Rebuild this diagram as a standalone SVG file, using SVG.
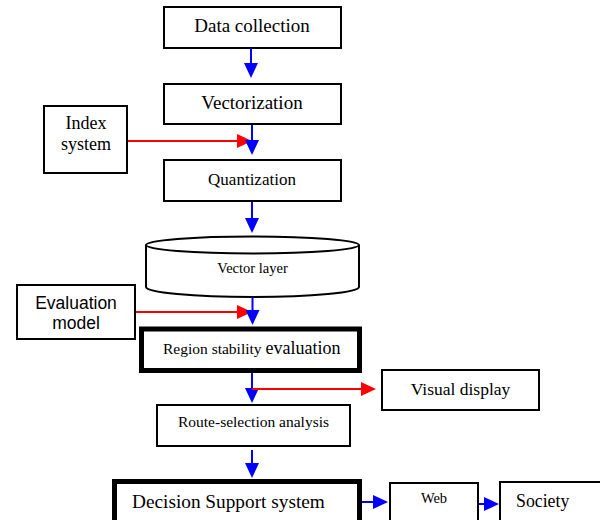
<svg xmlns="http://www.w3.org/2000/svg" width="600" height="520" viewBox="0 0 600 520">
  <style>
    .box { fill: #fff; stroke: #000; stroke-width: 2; }
    .thick { fill: #fff; stroke: #000; stroke-width: 5; }
    .t { font-family: "Liberation Serif", "Times New Roman", serif; fill: #000; }
    .s { font-family: "Liberation Sans", Arial, sans-serif; fill: #000; }
    .blue { stroke: #0000ff; stroke-width: 2; fill: none; marker-end: url(#headBlue); }
    .red { stroke: #ff0000; stroke-width: 2; fill: none; marker-end: url(#headRed); }
  </style>
  <defs>
    <marker id="headBlue" viewBox="0 0 15 14" refX="10" refY="7" markerWidth="15" markerHeight="14" markerUnits="userSpaceOnUse" orient="auto">
      <path d="M0,0 L15,7 L0,14 z" fill="#0000ff"/>
    </marker>
    <marker id="headRed" viewBox="0 0 15 14" refX="10" refY="7" markerWidth="15" markerHeight="14" markerUnits="userSpaceOnUse" orient="auto">
      <path d="M0,0 L15,7 L0,14 z" fill="#ff0000"/>
    </marker>
  </defs>
  <rect width="600" height="520" fill="#fff"/>

  <g id="data-collection">
    <rect class="box" x="164" y="7" width="177" height="41"/>
    <text class="t" x="252" y="32" font-size="19" text-anchor="middle">Data collection</text>
  </g>
  <g id="vectorization">
    <rect class="box" x="164" y="84" width="177" height="40"/>
    <text class="t" x="252" y="109" font-size="19" text-anchor="middle">Vectorization</text>
  </g>
  <g id="index-system">
    <rect class="box" x="44" y="106" width="83" height="67"/>
    <text class="t" x="86" y="129" font-size="18" text-anchor="middle">Index</text>
    <text class="t" x="86" y="150" font-size="18" text-anchor="middle">system</text>
  </g>
  <g id="quantization">
    <rect class="box" x="164" y="160" width="177" height="41"/>
    <text class="t" x="252" y="185" font-size="17" text-anchor="middle">Quantization</text>
  </g>
  <g id="vector-layer">
    <path class="box" d="M146,245 L146,287 A106.5,10 0 0 0 359,287 L359,245"/>
    <ellipse class="box" cx="252.5" cy="245" rx="106.5" ry="8.5"/>
    <text class="t" x="252.5" y="273" font-size="14.5" text-anchor="middle">Vector layer</text>
  </g>
  <g id="evaluation-model">
    <rect class="box" x="17" y="285" width="118" height="54"/>
    <text class="s" x="76" y="309" font-size="17.5" text-anchor="middle">Evaluation</text>
    <text class="s" x="76" y="329" font-size="17.5" text-anchor="middle">model</text>
  </g>
  <g id="region-stability">
    <rect class="thick" x="141.5" y="329" width="218" height="41.5"/>
    <text class="t" x="163" y="354" font-size="15.5">Region stability <tspan font-size="18">evaluation</tspan></text>
  </g>
  <g id="visual-display">
    <rect class="box" x="382" y="370" width="157" height="40"/>
    <text class="t" x="460.5" y="395" font-size="17.5" text-anchor="middle">Visual display</text>
  </g>
  <g id="route-selection">
    <rect class="box" x="157" y="405" width="193" height="41"/>
    <text class="t" x="253.5" y="427" font-size="15.5" text-anchor="middle">Route-selection analysis</text>
  </g>
  <g id="decision-support">
    <rect class="thick" x="114.5" y="481.5" width="245" height="60"/>
    <text class="t" x="132" y="508" font-size="19.3">Decision Support system</text>
  </g>
  <g id="web">
    <rect class="box" x="390" y="483" width="88" height="50"/>
    <text class="t" x="434" y="503" font-size="14.5" text-anchor="middle">Web</text>
  </g>
  <g id="society">
    <rect class="box" x="500" y="482" width="110" height="50"/>
    <text class="t" x="516" y="507" font-size="17.8">Society</text>
  </g>

  <g id="connectors">
    <line class="red" x1="128" y1="141" x2="247" y2="141"/>
    <line class="red" x1="136" y1="312" x2="247" y2="312"/>
    <line class="blue" x1="251" y1="48" x2="251" y2="73"/>
    <line class="blue" x1="252" y1="125" x2="252" y2="150"/>
    <line class="blue" x1="252" y1="202" x2="252" y2="228"/>
    <line class="blue" x1="252.5" y1="297" x2="252.5" y2="320"/>
    <line class="blue" x1="252" y1="373" x2="252" y2="398"/>
    <line class="red" x1="252" y1="389" x2="371" y2="389"/>
    <line class="blue" x1="252" y1="450" x2="252" y2="473"/>
    <line class="blue" x1="362" y1="502" x2="383" y2="502"/>
    <line class="blue" x1="479" y1="504" x2="494" y2="504"/>
  </g>
</svg>
